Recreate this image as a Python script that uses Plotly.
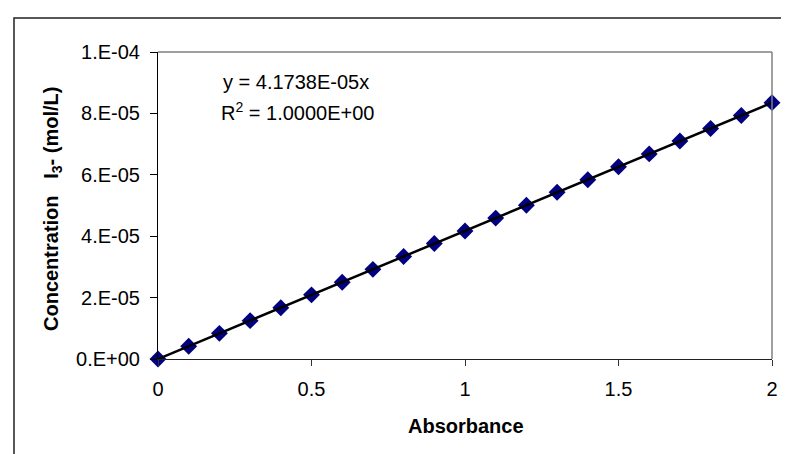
import plotly.graph_objects as go

absorbance = [0.0, 0.1, 0.2, 0.3, 0.4, 0.5, 0.6, 0.7, 0.8, 0.9, 1.0,
              1.1, 1.2, 1.3, 1.4, 1.5, 1.6, 1.7, 1.8, 1.9, 2.0]
concentration = [0.0, 4.17e-6, 8.35e-6, 1.25e-5, 1.67e-5, 2.09e-5, 2.50e-5,
                 2.92e-5, 3.34e-5, 3.76e-5, 4.17e-5, 4.59e-5, 5.01e-5, 5.43e-5,
                 5.84e-5, 6.26e-5, 6.68e-5, 7.10e-5, 7.51e-5, 7.93e-5, 8.35e-5]
slope = 4.1738e-05
trend_x = [absorbance[0], absorbance[-1]]

y_tickvals = [0, 2e-5, 4e-5, 6e-5, 8e-5, 1e-4]
y_ticktext = ["0.E+00", "2.E-05", "4.E-05", "6.E-05", "8.E-05", "1.E-04"]
x_tickvals = [0, 0.5, 1, 1.5, 2]
x_ticktext = ["0", "0.5", "1", "1.5", "2"]

FONT = "Arial, Liberation Sans, sans-serif"

fig = go.Figure()
fig.add_trace(go.Scatter(x=absorbance, y=concentration, mode="markers",
                         marker=dict(symbol="diamond", size=13, color="#000080",
                                     line=dict(width=0)),
                         cliponaxis=False, showlegend=False))
fig.add_trace(go.Scatter(x=trend_x, y=[slope * v for v in trend_x], mode="lines",
                         line=dict(color="black", width=2.5),
                         cliponaxis=False, showlegend=False))

fig.update_layout(
    width=789, height=454,
    margin=dict(l=150, r=25, t=44, b=103),
    paper_bgcolor="white", plot_bgcolor="white",
    font=dict(family=FONT, size=20, color="black"),
    xaxis=dict(range=[0, 2], tickvals=x_tickvals, ticktext=x_ticktext,
               showgrid=False, zeroline=False, showline=True, linecolor="#222222",
               linewidth=1, ticks="outside", ticklen=6, tickcolor="#333333",
               mirror=False, ticklabelstandoff=6,
               tickfont=dict(family=FONT, size=20)),
    yaxis=dict(range=[0, 1e-4], tickvals=y_tickvals, ticktext=y_ticktext,
               showgrid=False, zeroline=False, showline=True, linecolor="black",
               linewidth=1, ticks="outside", ticklen=7, tickcolor="black",
               ticklabelstandoff=6,
               tickfont=dict(family=FONT, size=20)),
    shapes=[
        dict(type="line", xref="paper", yref="paper", x0=0, x1=1, y0=1, y1=1,
             line=dict(color="#808080", width=1.5)),
        dict(type="line", xref="paper", yref="paper", x0=1, x1=1, y0=0, y1=1,
             line=dict(color="#808080", width=1.5)),
        dict(type="rect", xref="paper", yref="paper",
             x0=(6 - 150) / 614, x1=1.2, y0=-0.5, y1=1 + (44 - 10) / 307,
             line=dict(color="#222222", width=1.5), layer="below"),
    ],
    annotations=[
        dict(text="Absorbance", xref="paper", yref="paper",
             x=(458 - 150) / 614, y=(351 - 418) / 307, xanchor="center",
             yanchor="middle", showarrow=False,
             font=dict(family=FONT, size=20, color="black", weight="bold")),
        dict(text="Concentration   I<sub>3</sub>- (mol/L)", xref="paper", yref="paper",
             x=(44 - 150) / 614, y=(351 - 201) / 307, xanchor="center",
             yanchor="middle", textangle=-90, showarrow=False,
             font=dict(family=FONT, size=20, color="black", weight="bold")),
        dict(text="y = 4.1738E-05x", xref="paper", yref="paper",
             x=(213 - 150) / 614, y=(351 - 74) / 307, xanchor="left",
             yanchor="middle", showarrow=False,
             font=dict(family=FONT, size=20, color="black")),
        dict(text="R<sup>2</sup> = 1.0000E+00", xref="paper", yref="paper",
             x=(211 - 150) / 614, y=(351 - 103) / 307, xanchor="left",
             yanchor="middle", showarrow=False,
             font=dict(family=FONT, size=20, color="black")),
    ],
)

fig.write_html("out.html")
